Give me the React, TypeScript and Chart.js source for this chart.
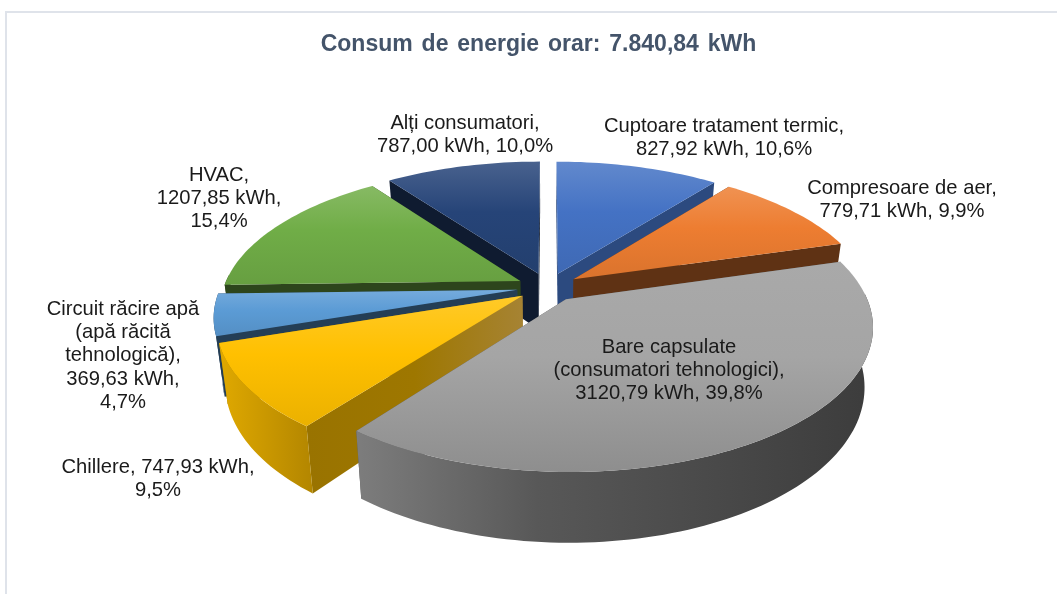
import React, { useEffect, useRef } from "react";
import { Chart, registerables } from "chart.js";

Chart.register(...registerables);

const titleText = "Consum de energie orar: 7.840,84 kWh";
const categories = [
  "Cuptoare tratament termic",
  "Compresoare de aer",
  "Bare capsulate (consumatori tehnologici)",
  "Chillere",
  "Circuit răcire apă (apă răcită tehnologică)",
  "HVAC",
  "Alți consumatori",
];
const energyKwh = [827.92, 779.71, 3120.79, 747.93, 369.63, 1207.85, 787.0];
const sliceColors = ["#4472c4", "#ed7d31", "#a5a5a5", "#ffc000", "#5b9bd5", "#70ad47", "#264478"];
const wallShade = [0.35, 0.6, 0.5, 0.38, 0.6, 0.6, 0.6];
const labelLines = [
  ["Cuptoare tratament termic,", "827,92 kWh, 10,6%"],
  ["Compresoare de aer,", "779,71 kWh, 9,9%"],
  ["Bare capsulate", "(consumatori tehnologici),", "3120,79 kWh, 39,8%"],
  ["Chillere, 747,93 kWh,", "9,5%"],
  ["Circuit răcire apă", "(apă răcită", "tehnologică),", "369,63 kWh,", "4,7%"],
  ["HVAC,", "1207,85 kWh,", "15,4%"],
  ["Alți consumatori,", "787,00 kWh, 10,0%"],
];

// layout of the text blocks: centre x, first-line centre y
const labelAnchors = [
  [724, 126],
  [902, 188],
  [669, 347],
  [158, 467],
  [123, 309],
  [219, 175],
  [465, 123],
];
const LABEL_LINE = 23.4;
const LABEL_FONT = '20.2px "Liberation Sans", Arial, sans-serif';

// 3D look of the pie
const view = {
  shiftX: 9.5,
  stretchX: 297 / 137,
  persp: 0.18,
  explode: 0.105,
  depth: 57 / 137,
  converge: 0.974,
};

type RGB = [number, number, number];
const toRgb = (h: string): RGB => [
  parseInt(h.slice(1, 3), 16),
  parseInt(h.slice(3, 5), 16),
  parseInt(h.slice(5, 7), 16),
];
const mix = (h: string, other: RGB, t: number) => {
  const c = toRgb(h);
  return `rgb(${c.map((v, i) => Math.round(v + (other[i] - v) * t)).join(",")})`;
};
const WHITE: RGB = [255, 255, 255];
const BLACK: RGB = [0, 0, 0];

const pie3d = {
  id: "pie3d",
  beforeDraw(chart: any) {
    const { ctx } = chart;
    ctx.save();
    ctx.strokeStyle = "#dfe3ea";
    ctx.lineWidth = 2;
    ctx.beginPath();
    ctx.moveTo(6, 594);
    ctx.lineTo(6, 12);
    ctx.lineTo(1057, 12);
    ctx.stroke();
    ctx.restore();
    ctx.wordSpacing = "2.5px"; // wide word gaps of the title
  },
  beforeDatasetDraw(chart: any, args: any) {
    const { ctx } = chart;
    ctx.wordSpacing = "0px";
    const meta = chart.getDatasetMeta(args.index);
    const arcs = meta.data as any[];
    const colors = chart.data.datasets[args.index].backgroundColor as string[];
    const first = arcs[0];
    const R = first.outerRadius;
    const cx = first.x + view.shiftX;
    const cy = first.y;
    const A = R * view.stretchX;
    const D = R * view.depth;

    const project = (x: number, y: number, low: boolean): [number, number] => {
      const s = 1 / (1 - view.persp * y);
      const k = low ? view.converge : 1;
      const px = cx + A * x * s * k;
      const py = cy + R * y * s + (low ? D * s : 0);
      return [px, py];
    };

    const slices = arcs.map((arc, i) => {
      const a0 = arc.startAngle + Math.PI / 2;
      const a1 = arc.endAngle + Math.PI / 2;
      const mid = (a0 + a1) / 2;
      return { i, a0, a1, mid };
    });
    slices.sort((p, q) => Math.cos(q.mid) - Math.cos(p.mid));

    const fillPoly = (pts: [number, number][], fill: any) => {
      ctx.beginPath();
      pts.forEach((p, n) => (n ? ctx.lineTo(p[0], p[1]) : ctx.moveTo(p[0], p[1])));
      ctx.closePath();
      ctx.fillStyle = fill;
      ctx.fill();
    };

    for (const sl of slices) {
      const base = colors[sl.i];
      const shade = wallShade[sl.i];
      const ox = Math.sin(sl.mid) * view.explode;
      const oy = -Math.cos(sl.mid) * view.explode;
      const rim = (t: number): [number, number] => [ox + Math.sin(t), oy - Math.cos(t)];
      const steps = Math.max(6, Math.ceil((sl.a1 - sl.a0) * 40));
      const angles: number[] = [];
      for (let n = 0; n <= steps; n++) angles.push(sl.a0 + ((sl.a1 - sl.a0) * n) / steps);

      const radialWall = (t: number) => {
        const r = rim(t);
        const a = project(ox, oy, false);
        const b = project(r[0], r[1], false);
        const c = project(r[0], r[1], true);
        const d = project(ox, oy, true);
        const g = ctx.createLinearGradient(a[0], 0, b[0] === a[0] ? a[0] + 1 : b[0], 0);
        if (sl.i === 3) {
          g.addColorStop(0, mix(base, [150, 120, 60], 0.85));
          g.addColorStop(0.5, mix(base, BLACK, shade));
          g.addColorStop(1, mix(base, BLACK, shade + 0.02));
        } else {
          g.addColorStop(0, mix(base, BLACK, shade));
          g.addColorStop(1, mix(base, BLACK, shade));
        }
        fillPoly([a, b, c, d], g);
      };

      // hidden wall first, visible wall after it
      const normalFront = (t: number, sign: number) => -Math.cos(t + (sign * Math.PI) / 2) > 0;
      const startFront = normalFront(sl.a0, -1);
      const endFront = normalFront(sl.a1, 1);
      if (!startFront) radialWall(sl.a0);
      if (!endFront) radialWall(sl.a1);
      if (startFront) radialWall(sl.a0);
      if (endFront) radialWall(sl.a1);

      // curved outer wall, visible where the rim faces the viewer
      const facing = angles.filter((t) => Math.cos(t) < 0.05);
      if (facing.length > 1) {
        const top = facing.map((t) => project(rim(t)[0], rim(t)[1], false));
        const low = facing.map((t) => project(rim(t)[0], rim(t)[1], true));
        const xs = top.concat(low).map((p) => p[0]);
        const left = Math.min(...xs);
        const right = Math.max(...xs);
        const g = ctx.createLinearGradient(left, 0, right, 0);
        if (sl.i === 2) {
          g.addColorStop(0, "#7d7d7d");
          g.addColorStop(0.35, "#585858");
          g.addColorStop(1, "#3c3c3c");
        } else if (sl.i === 3) {
          g.addColorStop(0, mix(base, BLACK, 0.12));
          g.addColorStop(1, mix(base, BLACK, 0.3));
        } else {
          g.addColorStop(0, mix(base, BLACK, shade));
          g.addColorStop(1, mix(base, BLACK, shade));
        }
        fillPoly(top.concat(low.reverse()), g);
      }

      // top face
      const outline: [number, number][] = [project(ox, oy, false)];
      angles.forEach((t) => {
        const r = rim(t);
        outline.push(project(r[0], r[1], false));
      });
      const ys = outline.map((p) => p[1]);
      const g = ctx.createLinearGradient(0, Math.min(...ys), 0, Math.max(...ys));
      g.addColorStop(0, mix(base, WHITE, sl.i === 2 ? 0.04 : 0.16));
      g.addColorStop(0.45, base);
      g.addColorStop(1, mix(base, BLACK, sl.i === 2 ? 0.14 : 0.08));
      fillPoly(outline, g);
    }
    return false;
  },
  afterDatasetsDraw(chart: any) {
    const { ctx } = chart;
    ctx.save();
    ctx.font = LABEL_FONT;
    ctx.fillStyle = "#1a1a1a";
    ctx.textAlign = "center";
    ctx.textBaseline = "middle";
    labelLines.forEach((lines, i) => {
      lines.forEach((line, n) => {
        ctx.fillText(line, labelAnchors[i][0], labelAnchors[i][1] + n * LABEL_LINE);
      });
    });
    ctx.restore();
  },
};

export default function App() {
  const ref = useRef<HTMLCanvasElement | null>(null);
  useEffect(() => {
    document.body.style.margin = "0";
    document.body.style.background = "#ffffff";
    const chart = new Chart(ref.current as HTMLCanvasElement, {
      type: "pie",
      data: {
        labels: categories,
        datasets: [{ data: energyKwh, backgroundColor: sliceColors, borderWidth: 0 }],
      },
      options: {
        responsive: false,
        animation: false,
        layout: { padding: { left: 20, right: 0, top: 0, bottom: 170 } },
        plugins: {
          legend: { display: false },
          tooltip: { enabled: false },
          title: {
            display: true,
            text: titleText,
            color: "#44546a",
            font: { family: '"Liberation Sans", Arial, sans-serif', size: 23, weight: "bold" },
            padding: { top: 31, bottom: 91.8 },
          },
        },
      },
      plugins: [pie3d],
    } as any);
    return () => chart.destroy();
  }, []);
  return <canvas ref={ref} width={1057} height={594} style={{ display: "block" }} />;
}
